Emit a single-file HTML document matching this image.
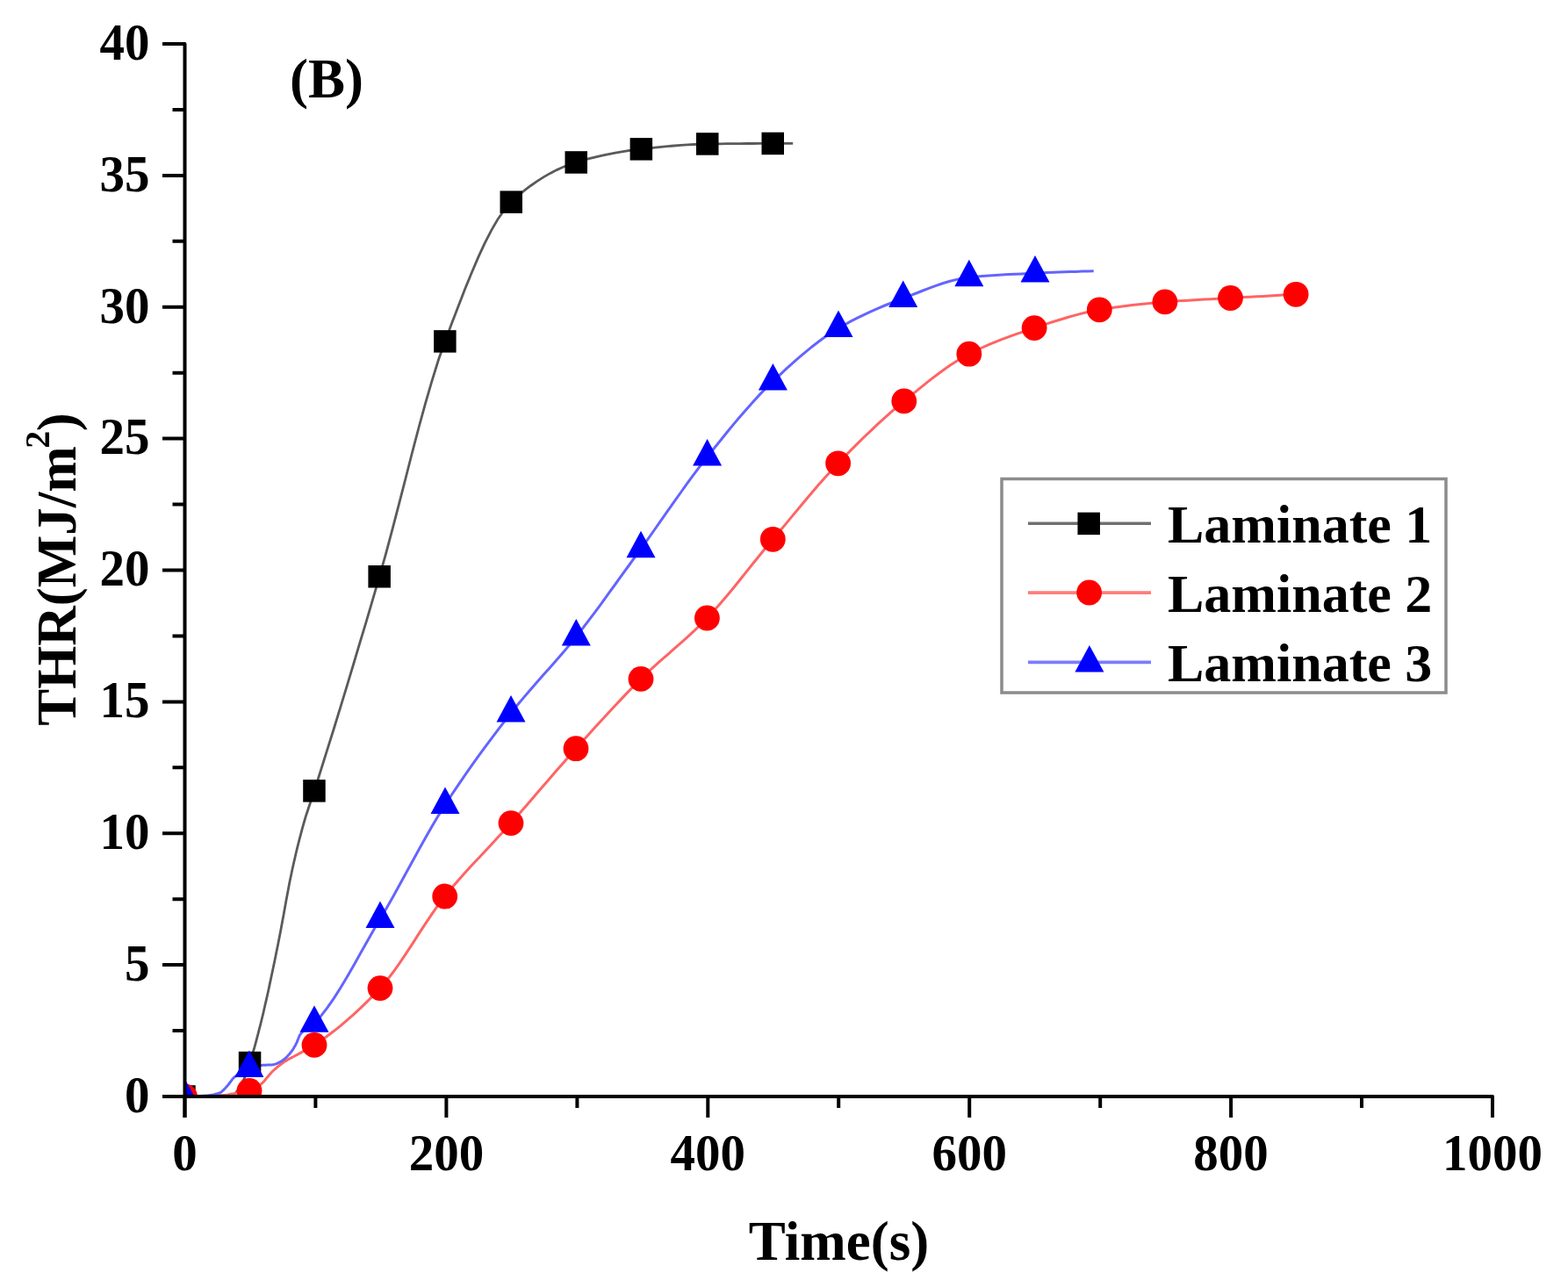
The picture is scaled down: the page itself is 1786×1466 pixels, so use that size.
<!DOCTYPE html>
<html><head><meta charset="utf-8"><title>THR chart</title>
<style>html,body{margin:0;padding:0;background:#fff;}body{width:1786px;height:1466px;overflow:hidden;}svg{display:block;}</style>
</head><body>
<svg width="1786" height="1466" viewBox="0 0 1786 1466">
<defs><clipPath id="pc"><rect x="210.5" y="0" width="1560" height="1249"/></clipPath></defs>
<g>
<rect width="1786" height="1466" fill="#fff"/>
<g clip-path="url(#pc)">
<path d="M210.5,1249.0 L213.4,1249.0 L216.4,1249.0 L219.3,1248.9 L222.3,1248.9 L225.2,1248.8 L228.2,1248.8 L231.2,1248.7 L234.1,1248.7 L237.1,1248.6 L240.0,1248.5 L242.5,1248.4 L245.0,1248.4 L247.5,1248.3 L250.0,1248.2 L252.5,1248.1 L255.0,1247.9 L257.5,1247.8 L260.0,1247.6 L262.5,1247.3 L265.0,1247.0 L266.0,1246.7 L267.0,1246.1 L268.0,1245.2 L269.0,1244.2 L270.0,1242.9 L271.0,1241.5 L272.0,1239.9 L273.0,1238.3 L274.0,1236.7 L275.0,1235.0 L275.9,1233.3 L276.9,1231.4 L277.9,1229.2 L278.8,1226.9 L279.8,1224.4 L280.7,1221.8 L281.6,1219.0 L282.6,1216.3 L283.6,1213.4 L284.5,1210.6 L285.8,1206.5 L287.2,1202.2 L288.5,1197.6 L289.9,1192.9 L291.2,1188.1 L292.5,1183.1 L293.9,1177.9 L295.2,1172.7 L296.6,1167.4 L297.9,1162.0 L299.8,1154.3 L301.6,1146.3 L303.5,1138.1 L305.4,1129.7 L307.2,1121.1 L309.1,1112.3 L311.0,1103.3 L312.9,1094.3 L314.7,1085.2 L316.6,1076.0 L318.2,1067.7 L319.9,1059.1 L321.5,1050.3 L323.2,1041.2 L324.8,1032.2 L326.4,1023.2 L328.1,1014.4 L329.7,1005.8 L331.4,997.7 L333.0,990.0 L334.4,983.8 L335.8,977.8 L337.1,972.0 L338.5,966.2 L339.9,960.6 L341.3,955.2 L342.7,949.9 L344.0,944.8 L345.4,939.8 L346.8,935.0 L347.9,931.2 L349.0,927.7 L350.2,924.2 L351.3,920.8 L352.4,917.5 L353.5,914.3 L354.6,911.0 L355.8,907.7 L356.9,904.4 L358.0,900.9 L365.4,877.5 L372.8,853.9 L380.3,830.0 L387.7,805.9 L395.1,781.6 L402.5,757.0 L409.9,732.2 L417.4,707.3 L424.8,682.1 L432.2,656.7 L439.7,630.2 L447.1,602.4 L454.6,573.6 L462.1,544.5 L469.5,515.5 L477.0,487.0 L484.5,459.6 L492.0,433.8 L499.4,410.0 L506.9,388.8 L514.4,368.8 L522.0,349.0 L529.5,329.6 L537.1,311.0 L544.6,293.4 L552.1,277.1 L559.7,262.3 L567.2,249.4 L574.8,238.6 L582.3,230.2 L589.7,223.5 L597.1,217.2 L604.5,211.5 L611.9,206.3 L619.3,201.6 L626.7,197.4 L634.1,193.6 L641.5,190.3 L648.9,187.4 L656.3,184.9 L663.7,182.7 L671.1,180.7 L678.5,178.8 L685.9,177.1 L693.3,175.6 L700.8,174.1 L708.2,172.9 L715.6,171.7 L723.0,170.7 L730.4,169.8 L737.9,169.0 L745.5,168.2 L753.0,167.4 L760.6,166.6 L768.1,166.0 L775.6,165.4 L783.2,164.9 L790.7,164.5 L798.3,164.2 L805.8,164.0 L813.2,163.9 L820.7,163.8 L828.1,163.7 L835.6,163.6 L843.0,163.6 L850.5,163.5 L857.9,163.5 L865.4,163.4 L872.8,163.4 L880.3,163.4 L882.6,163.4 L884.9,163.4 L887.2,163.4 L889.5,163.4 L891.8,163.4 L894.0,163.4 L896.3,163.4 L898.6,163.4 L900.9,163.4 L903.2,163.4" fill="none" stroke="#5a5a5a" stroke-width="2.8"/>
<path d="M210.5,1249.0 L212.9,1249.0 L215.4,1249.0 L217.8,1248.9 L220.3,1248.9 L222.8,1248.8 L225.2,1248.8 L227.7,1248.7 L230.1,1248.6 L232.6,1248.6 L235.0,1248.5 L237.0,1248.4 L239.0,1248.4 L241.0,1248.3 L243.0,1248.2 L245.0,1248.1 L247.0,1248.0 L249.0,1247.9 L251.0,1247.8 L253.0,1247.7 L255.0,1247.5 L256.5,1247.4 L258.0,1247.2 L259.5,1247.0 L261.0,1246.7 L262.5,1246.4 L264.0,1246.1 L265.5,1245.9 L267.0,1245.6 L268.5,1245.3 L270.0,1245.0 L271.4,1244.8 L272.8,1244.5 L274.2,1244.3 L275.6,1244.1 L277.0,1243.9 L278.4,1243.6 L279.8,1243.4 L281.2,1243.1 L282.6,1242.8 L284.0,1242.4 L285.3,1242.0 L286.6,1241.5 L287.8,1240.9 L289.1,1240.3 L290.4,1239.6 L291.7,1238.8 L293.0,1238.0 L294.2,1237.1 L295.5,1236.2 L296.8,1235.3 L298.2,1234.2 L299.5,1232.9 L300.9,1231.4 L302.3,1229.8 L303.6,1228.1 L305.0,1226.5 L306.4,1224.8 L307.8,1223.2 L309.1,1221.7 L310.5,1220.3 L311.9,1219.0 L313.2,1217.8 L314.6,1216.6 L315.9,1215.5 L317.3,1214.3 L318.7,1213.2 L320.0,1212.2 L321.4,1211.2 L322.7,1210.2 L324.1,1209.3 L325.5,1208.4 L326.8,1207.6 L328.2,1206.8 L329.5,1206.1 L330.9,1205.4 L332.3,1204.7 L333.6,1204.0 L335.0,1203.3 L336.3,1202.5 L337.7,1201.8 L339.7,1200.7 L341.8,1199.6 L343.8,1198.5 L345.8,1197.4 L347.9,1196.3 L349.9,1195.2 L351.9,1194.1 L353.9,1192.9 L356.0,1191.7 L358.0,1190.4 L365.5,1185.3 L373.0,1180.0 L380.5,1174.3 L388.0,1168.3 L395.5,1161.9 L403.0,1155.3 L410.5,1148.4 L418.0,1141.1 L425.5,1133.5 L433.0,1125.6 L440.4,1117.1 L447.7,1107.5 L455.1,1097.1 L462.5,1086.2 L469.9,1074.9 L477.2,1063.4 L484.6,1052.1 L492.0,1041.1 L499.3,1030.6 L506.7,1021.0 L514.2,1011.8 L521.8,1003.0 L529.3,994.6 L536.8,986.3 L544.4,978.2 L551.9,970.2 L559.4,962.2 L566.9,954.1 L574.5,946.0 L582.0,937.6 L589.4,929.2 L596.8,920.7 L604.2,912.2 L611.6,903.6 L619.0,895.0 L626.4,886.4 L633.8,877.8 L641.2,869.4 L648.6,861.0 L656.0,852.7 L663.4,844.5 L670.8,836.3 L678.2,828.1 L685.6,820.0 L693.0,812.0 L700.4,804.0 L707.8,796.1 L715.2,788.4 L722.6,780.8 L730.0,773.4 L737.5,766.1 L745.1,759.1 L752.6,752.4 L760.2,745.8 L767.7,739.2 L775.2,732.6 L782.8,725.8 L790.3,718.9 L797.9,711.6 L805.4,704.0 L812.9,696.0 L820.4,687.5 L827.9,678.7 L835.4,669.7 L842.8,660.5 L850.3,651.1 L857.8,641.8 L865.3,632.5 L872.8,623.3 L880.3,614.3 L887.7,605.5 L895.2,596.6 L902.6,587.6 L910.0,578.7 L917.5,569.8 L924.9,561.0 L932.3,552.3 L939.7,543.9 L947.2,535.7 L954.6,527.8 L962.1,520.0 L969.6,512.4 L977.1,504.9 L984.6,497.5 L992.2,490.3 L999.7,483.2 L1007.2,476.3 L1014.7,469.6 L1022.2,463.2 L1029.7,456.9 L1037.1,450.8 L1044.5,444.8 L1051.9,438.8 L1059.3,432.9 L1066.8,427.2 L1074.2,421.8 L1081.6,416.6 L1089.0,411.7 L1096.4,407.2 L1103.8,403.2 L1111.2,399.5 L1118.7,396.0 L1126.1,392.7 L1133.5,389.6 L1140.9,386.7 L1148.4,383.9 L1155.8,381.2 L1163.2,378.6 L1170.7,376.1 L1178.1,373.6 L1185.5,371.2 L1192.9,368.7 L1200.4,366.3 L1207.8,364.0 L1215.2,361.7 L1222.6,359.6 L1230.0,357.6 L1237.5,355.8 L1244.9,354.2 L1252.3,352.8 L1259.8,351.6 L1267.2,350.5 L1274.7,349.4 L1282.1,348.4 L1289.6,347.5 L1297.1,346.7 L1304.5,345.9 L1312.0,345.2 L1319.4,344.5 L1326.9,343.9 L1334.4,343.3 L1341.8,342.8 L1349.3,342.4 L1356.7,341.9 L1364.2,341.5 L1371.7,341.1 L1379.1,340.7 L1386.6,340.3 L1394.0,339.9 L1401.5,339.5 L1409.0,339.1 L1416.4,338.6 L1423.9,338.2 L1431.3,337.8 L1438.8,337.4 L1446.3,337.0 L1453.7,336.5 L1461.2,336.1 L1468.6,335.7 L1476.1,335.3" fill="none" stroke="#ff6464" stroke-width="3"/>
<path d="M210.5,1249.0 L212.9,1249.0 L215.4,1249.0 L217.8,1248.9 L220.3,1248.8 L222.8,1248.7 L225.2,1248.6 L227.7,1248.5 L230.1,1248.3 L232.6,1248.2 L235.0,1248.0 L236.5,1247.9 L238.0,1247.7 L239.5,1247.5 L241.0,1247.3 L242.5,1247.0 L244.0,1246.7 L245.5,1246.3 L247.0,1245.9 L248.5,1245.5 L250.0,1245.0 L250.8,1244.7 L251.6,1244.2 L252.4,1243.6 L253.2,1242.9 L254.0,1242.2 L254.8,1241.4 L255.6,1240.5 L256.4,1239.7 L257.2,1238.8 L258.0,1238.0 L258.9,1237.0 L259.8,1235.9 L260.7,1234.8 L261.6,1233.5 L262.5,1232.3 L263.4,1231.1 L264.3,1229.9 L265.2,1228.8 L266.1,1227.8 L267.0,1227.0 L268.7,1225.6 L270.4,1224.3 L272.1,1223.1 L273.8,1221.9 L275.4,1220.9 L277.1,1219.9 L278.8,1219.0 L280.5,1218.1 L282.2,1217.4 L283.9,1216.8 L285.3,1216.3 L286.7,1215.9 L288.1,1215.4 L289.5,1215.0 L290.9,1214.6 L292.4,1214.3 L293.8,1214.0 L295.2,1213.7 L296.6,1213.5 L298.0,1213.4 L299.2,1213.3 L300.5,1213.2 L301.8,1213.2 L303.0,1213.2 L304.2,1213.1 L305.5,1213.1 L306.8,1213.0 L308.0,1213.0 L309.2,1212.9 L310.5,1212.8 L311.5,1212.7 L312.5,1212.4 L313.6,1212.1 L314.6,1211.8 L315.6,1211.4 L316.6,1210.9 L317.6,1210.4 L318.7,1209.8 L319.7,1209.3 L320.7,1208.7 L321.7,1208.1 L322.8,1207.3 L323.8,1206.5 L324.8,1205.6 L325.9,1204.7 L326.9,1203.7 L327.9,1202.6 L328.9,1201.4 L330.0,1200.2 L331.0,1199.0 L331.7,1198.2 L332.3,1197.3 L333.0,1196.3 L333.7,1195.3 L334.4,1194.2 L335.0,1193.1 L335.7,1191.9 L336.4,1190.7 L337.0,1189.5 L337.7,1188.2 L338.1,1187.3 L338.5,1186.4 L338.9,1185.3 L339.3,1184.2 L339.8,1183.1 L340.2,1182.0 L340.6,1181.0 L341.0,1180.0 L341.4,1179.2 L341.8,1178.6 L343.4,1176.6 L345.0,1175.0 L346.7,1173.7 L348.3,1172.5 L349.9,1171.4 L351.5,1170.4 L353.1,1169.4 L354.8,1168.3 L356.4,1167.1 L358.0,1165.6 L365.5,1157.4 L373.0,1147.7 L380.5,1136.8 L388.0,1125.0 L395.5,1112.5 L403.0,1099.4 L410.5,1086.1 L418.0,1072.8 L425.5,1059.6 L433.0,1046.8 L440.4,1034.2 L447.8,1021.2 L455.2,1007.8 L462.6,994.3 L470.0,980.8 L477.4,967.3 L484.8,954.0 L492.2,941.1 L499.6,928.6 L507.0,916.8 L514.5,905.3 L522.0,894.1 L529.5,883.1 L537.0,872.4 L544.5,861.9 L552.0,851.6 L559.5,841.6 L567.0,831.7 L574.5,821.9 L582.0,812.3 L589.4,803.0 L596.9,794.1 L604.3,785.5 L611.7,777.0 L619.1,768.6 L626.6,760.2 L634.0,751.8 L641.4,743.2 L648.9,734.4 L656.3,725.2 L663.7,715.8 L671.0,706.2 L678.4,696.3 L685.8,686.3 L693.1,676.2 L700.5,666.0 L707.9,655.7 L715.3,645.5 L722.6,635.3 L730.0,625.1 L737.6,614.6 L745.1,604.0 L752.7,593.2 L760.2,582.4 L767.8,571.7 L775.4,561.0 L782.9,550.4 L790.5,540.1 L798.0,530.1 L805.6,520.4 L813.1,511.0 L820.6,501.7 L828.0,492.5 L835.5,483.4 L843.0,474.5 L850.5,465.9 L858.0,457.5 L865.4,449.4 L872.9,441.7 L880.4,434.4 L887.9,427.4 L895.3,420.4 L902.8,413.7 L910.2,407.1 L917.7,400.8 L925.2,394.7 L932.6,389.0 L940.1,383.5 L947.5,378.5 L955.0,373.9 L962.4,369.7 L969.7,365.7 L977.1,361.9 L984.5,358.3 L991.9,354.9 L999.2,351.6 L1006.6,348.5 L1014.0,345.5 L1021.3,342.6 L1028.7,339.8 L1036.2,336.9 L1043.7,334.0 L1051.2,331.0 L1058.7,328.1 L1066.2,325.4 L1073.8,322.8 L1081.3,320.5 L1088.8,318.6 L1096.3,317.1 L1103.8,316.0 L1111.3,315.2 L1118.8,314.6 L1126.4,314.0 L1133.9,313.5 L1141.4,313.0 L1148.9,312.6 L1156.4,312.2 L1164.0,311.9 L1171.5,311.5 L1179.0,311.2 L1185.7,310.9 L1192.3,310.6 L1199.0,310.3 L1205.7,310.1 L1212.3,309.8 L1219.0,309.6 L1225.7,309.4 L1232.4,309.1 L1239.0,309.0 L1245.7,308.8" fill="none" stroke="#6464ff" stroke-width="3"/>
<g fill="#000"><rect x="197.2" y="1236.2" width="25.5" height="25.5"/><rect x="271.8" y="1197.8" width="25.5" height="25.5"/><rect x="345.2" y="888.1" width="25.5" height="25.5"/><rect x="419.4" y="644.0" width="25.5" height="25.5"/><rect x="494.1" y="376.1" width="25.5" height="25.5"/><rect x="569.5" y="217.4" width="25.5" height="25.5"/><rect x="643.5" y="172.2" width="25.5" height="25.5"/><rect x="717.6" y="157.1" width="25.5" height="25.5"/><rect x="793.0" y="151.2" width="25.5" height="25.5"/><rect x="867.5" y="150.7" width="25.5" height="25.5"/></g>
<g fill="#ff0000"><circle cx="210.5" cy="1249.0" r="14.4"/><circle cx="284.0" cy="1242.4" r="14.4"/><circle cx="358.0" cy="1190.4" r="14.4"/><circle cx="433.0" cy="1125.6" r="14.4"/><circle cx="506.7" cy="1021.0" r="14.4"/><circle cx="582.0" cy="937.6" r="14.4"/><circle cx="656.0" cy="852.7" r="14.4"/><circle cx="730.0" cy="773.4" r="14.4"/><circle cx="805.4" cy="704.0" r="14.4"/><circle cx="880.3" cy="614.3" r="14.4"/><circle cx="954.6" cy="527.8" r="14.4"/><circle cx="1029.7" cy="456.9" r="14.4"/><circle cx="1103.8" cy="403.2" r="14.4"/><circle cx="1178.1" cy="373.6" r="14.4"/><circle cx="1252.3" cy="352.8" r="14.4"/><circle cx="1326.9" cy="343.9" r="14.4"/><circle cx="1401.5" cy="339.5" r="14.4"/><circle cx="1476.1" cy="335.3" r="14.4"/></g>
<g fill="#0000ff"><path d="M210.5,1228.7 L227.0,1259.2 L194.0,1259.2Z"/><path d="M283.9,1196.5 L300.4,1227.0 L267.4,1227.0Z"/><path d="M358.0,1145.3 L374.5,1175.8 L341.5,1175.8Z"/><path d="M433.0,1026.5 L449.5,1057.0 L416.5,1057.0Z"/><path d="M507.0,896.5 L523.5,927.0 L490.5,927.0Z"/><path d="M582.0,792.0 L598.5,822.5 L565.5,822.5Z"/><path d="M656.3,704.9 L672.8,735.4 L639.8,735.4Z"/><path d="M730.0,604.8 L746.5,635.3 L713.5,635.3Z"/><path d="M805.6,500.1 L822.1,530.6 L789.1,530.6Z"/><path d="M880.4,414.1 L896.9,444.6 L863.9,444.6Z"/><path d="M955.0,353.6 L971.5,384.1 L938.5,384.1Z"/><path d="M1028.7,319.5 L1045.2,350.0 L1012.2,350.0Z"/><path d="M1103.8,295.7 L1120.3,326.2 L1087.3,326.2Z"/><path d="M1179.0,290.9 L1195.5,321.4 L1162.5,321.4Z"/></g>
</g>
<g fill="none" stroke="#000" stroke-width="4" stroke-linejoin="round" stroke-linecap="butt">
<path d="M186,50 H210.5 V1273"/>
<path d="M210.5,1249 H1700 V1273"/>
<path d="M185,1249.0 H210.5 M185,1099.1 H210.5 M185,949.2 H210.5 M185,799.4 H210.5 M185,649.5 H210.5 M185,499.6 H210.5 M185,349.8 H210.5 M185,199.9 H210.5 M185,50.0 H210.5 M196.5,1174.1 H210.5 M196.5,1024.2 H210.5 M196.5,874.3 H210.5 M196.5,724.4 H210.5 M196.5,574.6 H210.5 M196.5,424.7 H210.5 M196.5,274.8 H210.5 M196.5,124.9 H210.5 M210.5,1249 V1273 M508.4,1249 V1273 M806.3,1249 V1273 M1104.2,1249 V1273 M1402.1,1249 V1273 M1700.0,1249 V1273 M359.4,1249 V1262 M657.4,1249 V1262 M955.2,1249 V1262 M1253.2,1249 V1262 M1551.0,1249 V1262"/>
</g>
<g font-family="'Liberation Serif', serif" font-weight="bold" fill="#000" font-size="60">
<text transform="translate(170.5,1266.8) scale(0.95,1)" text-anchor="end">0</text><text transform="translate(170.5,1116.9) scale(0.95,1)" text-anchor="end">5</text><text transform="translate(170.5,967.0) scale(0.95,1)" text-anchor="end">10</text><text transform="translate(170.5,817.2) scale(0.95,1)" text-anchor="end">15</text><text transform="translate(170.5,667.3) scale(0.95,1)" text-anchor="end">20</text><text transform="translate(170.5,517.4) scale(0.95,1)" text-anchor="end">25</text><text transform="translate(170.5,367.6) scale(0.95,1)" text-anchor="end">30</text><text transform="translate(170.5,217.7) scale(0.95,1)" text-anchor="end">35</text><text transform="translate(170.5,67.8) scale(0.95,1)" text-anchor="end">40</text>
<text transform="translate(210.5,1333.3) scale(0.95,1)" text-anchor="middle">0</text><text transform="translate(508.4,1333.3) scale(0.95,1)" text-anchor="middle">200</text><text transform="translate(806.3,1333.3) scale(0.95,1)" text-anchor="middle">400</text><text transform="translate(1104.2,1333.3) scale(0.95,1)" text-anchor="middle">600</text><text transform="translate(1402.1,1333.3) scale(0.95,1)" text-anchor="middle">800</text><text transform="translate(1700.0,1333.3) scale(0.95,1)" text-anchor="middle">1000</text>
</g>
<text x="955.5" y="1434.5" text-anchor="middle" font-family="'Liberation Serif', serif" font-weight="bold" font-size="63">Time(s)</text>
<text transform="translate(86,648.5) rotate(-90)" text-anchor="middle" font-family="'Liberation Serif', serif" font-weight="bold" font-size="63">THR(MJ/m<tspan font-size="40" dx="-2.5" dy="-30">2</tspan><tspan dx="-0.5" dy="30">)</tspan></text>
<text x="330" y="111" font-family="'Liberation Serif', serif" font-weight="bold" font-size="63">(B)</text>
<rect x="1141" y="545.5" width="506" height="243.5" fill="#fff" stroke="#8c8c8c" stroke-width="3.5"/>
<g stroke-width="3.6" fill="none">
<path d="M1171,596.3 H1311" stroke="#707070"/>
<path d="M1171,675.1 H1311" stroke="#ff7c7c"/>
<path d="M1171,754.4 H1311" stroke="#7c7cff"/>
</g>
<rect x="1227.45" y="583.65" width="25.5" height="25.5" fill="#000"/>
<circle cx="1240.6" cy="675" r="14.4" fill="#ff0000"/>
<path d="M1240.9,735.0 L1257.4,765.5 L1224.4,765.5Z" fill="#0000ff"/>
<g font-family="'Liberation Serif', serif" font-weight="bold" font-size="62">
<text x="1330" y="618">Laminate 1</text>
<text x="1330" y="697">Laminate 2</text>
<text x="1330" y="776">Laminate 3</text>
</g>
</g>
</svg>
</body></html>
